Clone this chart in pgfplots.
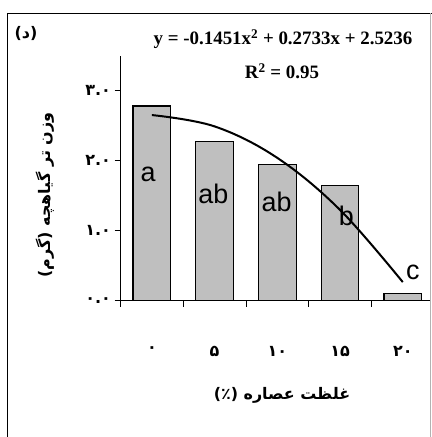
\documentclass[border=0pt]{standalone}
\usepackage{pgfplots}
\pgfplotsset{compat=1.18}
\usepackage{fontspec}
\setmainfont{Liberation Serif}
\newfontfamily\arial{Liberation Sans}
\newfontfamily\fa[Script=Arabic]{DejaVu Sans}
\TeXXeTstate=1
\begin{document}
\begin{tikzpicture}
\path[use as bounding box] (0bp,0bp) rectangle (432bp,437bp);
\begin{axis}[
  at={(120.5bp,136.3bp)}, anchor=south west,
  scale only axis, width=310.5bp, height=245bp,
  xmin=-0.5, xmax=4.45, ymin=0, ymax=3.5,
  axis x line=bottom, axis y line=left,
  axis line style={-, line width=0.8bp, black},
  tick align=outside,
  xtick={0,1,2,3,4},
  xticklabels={۰,۵,۱۰,۱۵,۲۰},
  minor xtick={-0.5,0.5,1.5,2.5,3.5},
  major x tick style={draw=none},
  minor tick length=6bp, major tick length=6bp,
  ytick={0,1,2,3},
  yticklabels={۰.۰,۱.۰,۲.۰,۳.۰},
  tick style={black, line width=0.8bp},
  ticklabel style={font=\fa\fontsize{16}{16}\selectfont\bfseries},
  xticklabel style={yshift=-36bp},
  clip=false,
]
\addplot[ybar, bar width=0.6, fill=black!25, draw=black, line width=1.2bp]
  coordinates {(0,2.78) (1,2.27) (2,1.94) (3,1.64) (4,0.10)};
\addplot[black, line width=2bp, smooth, tension=0.6]
  coordinates {(0,2.652) (1,2.490) (2,2.040) (3,1.297) (4,0.266)};
\node[font=\arial\fontsize{27}{27}\selectfont] at (axis cs:-0.06,1.80) {a};
\node[font=\arial\fontsize{27}{27}\selectfont] at (axis cs:0.98,1.53) {ab};
\node[font=\arial\fontsize{27}{27}\selectfont] at (axis cs:1.99,1.41) {ab};
\node[font=\arial\fontsize{27}{27}\selectfont] at (axis cs:3.10,1.21) {b};
\node[font=\arial\fontsize{27}{27}\selectfont] at (axis cs:4.16,0.40) {c};
\end{axis}
\draw[line width=1.5bp, draw=black] (7.5bp,-1bp) -- (7.5bp,423.7bp) -- (433bp,423.7bp);
\draw[draw=black!30, line width=1bp] (430.5bp,-1bp) -- (430.5bp,423.7bp);
\node[font=\fontsize{19}{19}\selectfont\bfseries] at (283bp,398bp) {y = -0.1451x\textsuperscript{2} + 0.2733x + 2.5236};
\node[font=\fontsize{19}{19}\selectfont\bfseries] at (282bp,366bp) {R\textsuperscript{2} = 0.95};
\node[font=\fa\fontsize{16}{16}\selectfont\bfseries] at (26bp,403bp) {\beginR(د)\endR};
\node[rotate=90, font=\fa\fontsize{16}{16}\selectfont\bfseries] at (45bp,242bp) {\beginR وزن تر گیاهچه (گرم)\endR};
\node[font=\fa\fontsize{16}{16}\selectfont\bfseries] at (282bp,42bp) {\beginR غلظت عصاره (٪)\endR};
\end{tikzpicture}
\end{document}
